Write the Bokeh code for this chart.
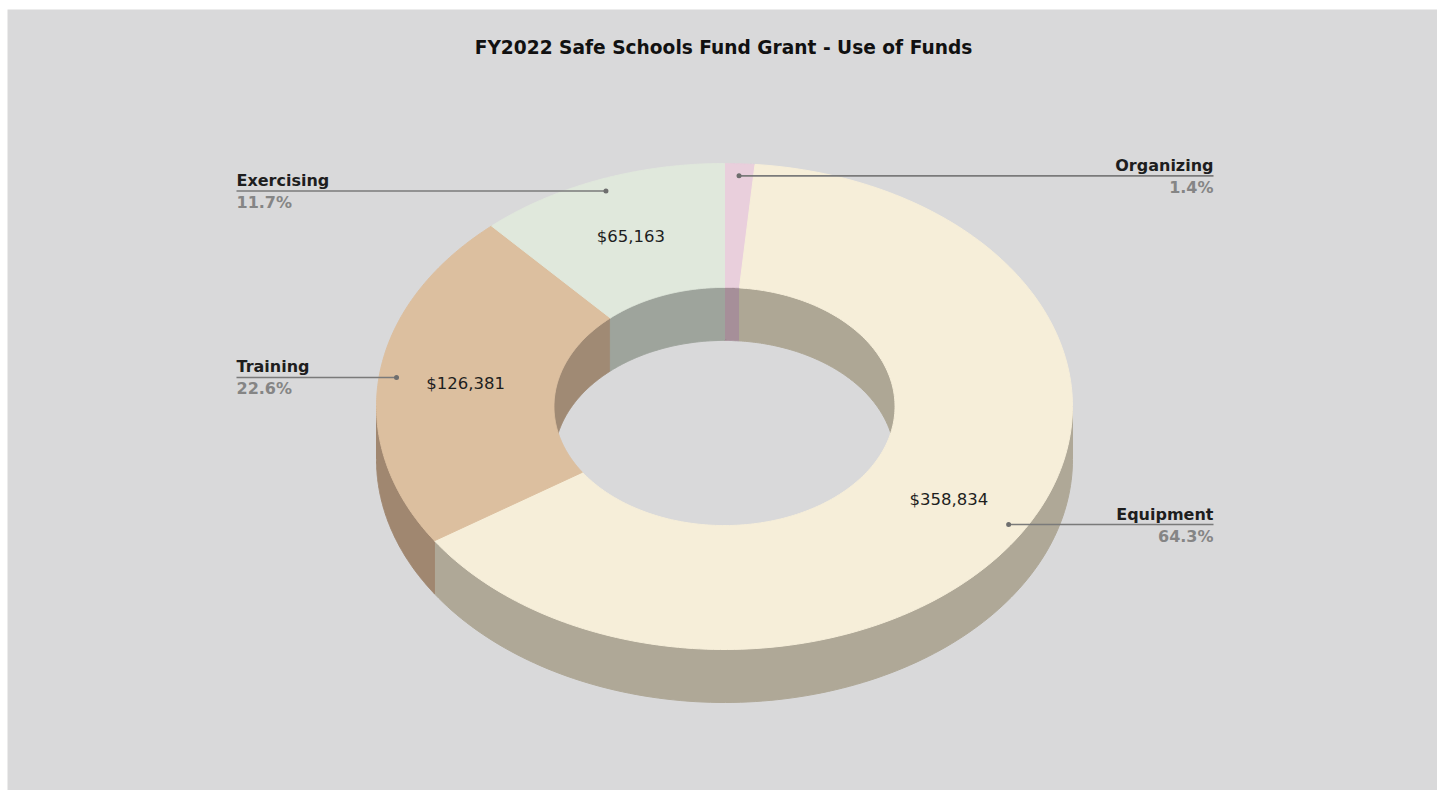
import numpy as np
from bokeh.plotting import figure
from bokeh.models import Range1d
from bokeh.embed import file_html
from bokeh.resources import INLINE
from bokeh.core.properties import value

# ---------------- data ----------------
title = "FY2022 Safe Schools Fund Grant - Use of Funds"
categories = ["Organizing", "Equipment", "Training", "Exercising"]
amounts = [7800, 358834, 126381, 65163]
percent_labels = ["1.4%", "64.3%", "22.6%", "11.7%"]
amount_labels = ["", "$358,834", "$126,381", "$65,163"]

# ---------------- style ----------------
top_colors = ["#e9cfdc", "#f6eed9", "#dcbf9f", "#e0e8dc"]
outer_wall_colors = ["#a68f99", "#afa897", "#a08770", "#9ea49c"]
inner_wall_colors = ["#a68f99", "#aea795", "#a08a74", "#9ea49c"]
label_side = ["right", "right", "left", "left"]
BG = "#d9d9da"
FONT = "DejaVu Sans"

W, H = 1437, 790
FL, FT = 7, 9                # frame offset (left, top)
CX, CY = 724, 406            # centre of top face (screen coords, y down)
RX, RY = 348, 243            # outer radii
INNER = 0.49                 # inner radius ratio
DEPTH = 53
LEFT_X, RIGHT_X = 236, 1213

p = figure(width=W, height=H, output_backend="svg", toolbar_location=None,
           x_range=Range1d(FL, W), y_range=Range1d(H, FT),
           min_border_left=FL, min_border_top=FT, min_border_right=0,
           min_border_bottom=0, outline_line_color=None)
p.axis.visible = False
p.grid.visible = False
p.background_fill_color = BG
p.border_fill_color = "white"


def pt(r, t, dy=0.0):
    return CX + r * RX * np.sin(t), CY - r * RY * np.cos(t) + dy


total = float(sum(amounts))
fracs = [a / total for a in amounts]
starts = np.concatenate([[0.0], np.cumsum(fracs)[:-1]]) * 2 * np.pi
ends = np.cumsum(fracs) * 2 * np.pi


def inter(a0, a1, lo, hi):
    s, e = max(a0, lo), min(a1, hi)
    return (s, e) if e > s else None


wall_xs, wall_ys, wall_c = [], [], []
for i in range(len(amounts)):
    a0, a1 = starts[i], ends[i]
    # outer front wall
    iv = inter(a0, a1, np.pi / 2, 3 * np.pi / 2)
    if iv:
        t = np.linspace(iv[0], iv[1], 120)
        x1, y1 = pt(1.0, t)
        x2, y2 = pt(1.0, t[::-1], DEPTH)
        wall_xs.append(list(np.concatenate([x1, x2])))
        wall_ys.append(list(np.concatenate([y1, y2])))
        wall_c.append(outer_wall_colors[i])
    # inner far wall
    for lo, hi in [(0, np.pi / 2), (3 * np.pi / 2, 2 * np.pi)]:
        iv = inter(a0, a1, lo, hi)
        if iv:
            t = np.linspace(iv[0], iv[1], 120)
            x1, y1 = pt(INNER, t)
            x2, y2 = pt(INNER, t[::-1], DEPTH)
            wall_xs.append(list(np.concatenate([x1, x2])))
            wall_ys.append(list(np.concatenate([y1, y2])))
            wall_c.append(inner_wall_colors[i])

p.patches(wall_xs, wall_ys, fill_color=wall_c, line_color=wall_c, line_width=1)

top_xs, top_ys = [], []
for i in range(len(amounts)):
    t = np.linspace(starts[i], ends[i], 200)
    xo, yo = pt(1.0, t)
    xi, yi = pt(INNER, t[::-1])
    top_xs.append(list(np.concatenate([xo, xi])))
    top_ys.append(list(np.concatenate([yo, yi])))
p.patches(top_xs, top_ys, fill_color=top_colors, line_color=top_colors, line_width=1)

# value labels
mids = (starts + ends) / 2
vx, vy, vt = [], [], []
for i in range(len(amounts)):
    if amount_labels[i]:
        x, y = pt(0.75, mids[i])
        vx.append(x); vy.append(y); vt.append(amount_labels[i])
p.text(vx, vy, vt, text_font=value(FONT), text_font_size="16.5px",
       text_color="#1e1e1e", text_align="center", text_baseline="middle")

# leader lines + labels
for i in range(len(amounts)):
    dx, dy = pt(0.95, mids[i])
    lx = LEFT_X if label_side[i] == "left" else RIGHT_X
    p.line([dx, lx], [dy, dy], line_color="#7a7a7a", line_width=1.6)
    p.scatter([dx], [dy], size=5, fill_color="#6e6e6e", line_color=None)
    align = "left" if label_side[i] == "left" else "right"
    p.text([lx], [dy - 1], [categories[i]], text_font=value(FONT),
           text_font_style="bold", text_font_size="16px", text_color="#1e1e1e",
           text_align=align, text_baseline="bottom")
    p.text([lx], [dy + 2], [percent_labels[i]], text_font=value(FONT),
           text_font_style="bold", text_font_size="16px", text_color="#858585",
           text_align=align, text_baseline="top")

p.text([723], [47], [title], text_font=value(FONT), text_font_style="bold",
       text_font_size="18.6px", text_color="#111111", text_align="center",
       text_baseline="middle")

open("out.html", "w").write(file_html(p, INLINE))
